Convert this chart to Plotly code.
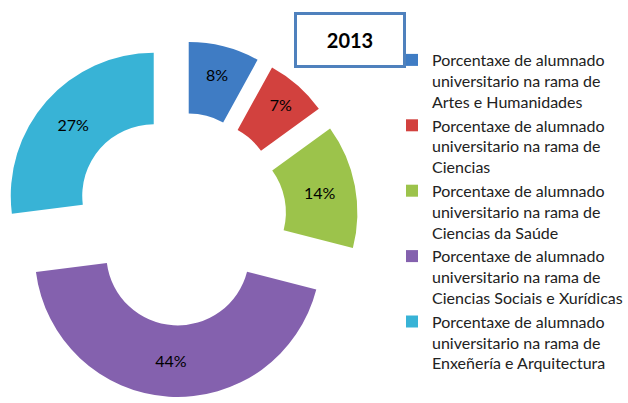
import plotly.graph_objects as go

# Alumnado universitario por rama, 2013 (%)
ramas = [
    "Porcentaxe de alumnado<br>universitario na rama de<br>Artes e Humanidades",
    "Porcentaxe de alumnado<br>universitario na rama de<br>Ciencias",
    "Porcentaxe de alumnado<br>universitario na rama de<br>Ciencias da Saúde",
    "Porcentaxe de alumnado<br>universitario na rama de<br>Ciencias Sociais e Xurídicas",
    "Porcentaxe de alumnado<br>universitario na rama de<br>Enxeñería e Arquitectura",
]
porcentaxes = [8, 7, 14, 44, 27]
cores = ["#3f7cc4", "#d2413e", "#9cc34b", "#8461ae", "#38b3d6"]
ano = "2013"

W, H = 628, 403

fig = go.Figure(go.Pie(
    labels=ramas,
    values=porcentaxes,
    hole=0.5,
    pull=0.245,
    sort=False,
    direction="clockwise",
    rotation=0,
    marker=dict(colors=cores, line=dict(width=0)),
    texttemplate="%{value}%",
    textposition="inside",
    insidetextorientation="horizontal",
    textfont=dict(size=16, color="black", family="Lato"),
    domain=dict(x=[2 / W, 358 / W], y=[1 - 397 / H, 1 - 41 / H]),
))

# caixa co ano
fig.add_annotation(
    text="<b>" + ano + "</b>",
    x=350 / W, y=1 - 40 / H, xref="paper", yref="paper",
    xanchor="center", yanchor="middle",
    showarrow=False,
    width=104, height=48,
    bordercolor="#4f81bd", borderwidth=3, bgcolor="white",
    font=dict(size=20, color="black", family="Lato"),
)

fig.update_layout(
    width=W, height=H,
    margin=dict(l=0, r=0, t=0, b=0),
    paper_bgcolor="white",
    plot_bgcolor="white",
    font=dict(family="Lato", color="#222"),
    legend=dict(
        x=1, y=1 - 43 / H, xanchor="right", yanchor="top",
        font=dict(size=16, family="Lato", color="#222"),
        valign="top",
        itemwidth=30,
    ),
)

fig.write_html("out.html", config={"displayModeBar": False},
               post_script="document.body.style.margin='0';")
